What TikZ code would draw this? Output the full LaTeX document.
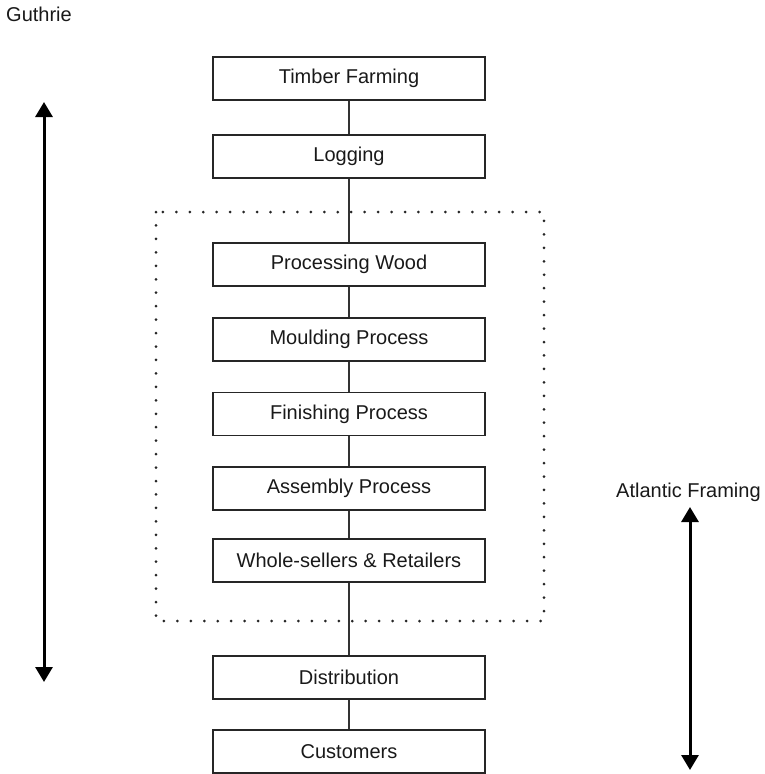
\documentclass[tikz,border=0pt]{standalone}
\usepackage{fontspec}
\setmainfont{Liberation Sans}
\usetikzlibrary{arrows.meta}
\begin{document}
\begin{tikzpicture}[x=1pt,y=-1pt,
  stagebox/.style={draw=black!85, line width=1.3pt, minimum width=272pt, minimum height=43pt, inner sep=0pt, font=\fontsize{20}{22}\selectfont, text=black!90},
  link/.style={draw=black!80, line width=1.1pt},
  label/.style={font=\fontsize{20}{22}\selectfont, text=black!90, inner sep=0pt},
  bigarrow/.style={line width=3pt, {Triangle[length=15pt,width=17pt]}-{Triangle[length=15pt,width=17pt]}}]
\useasboundingbox (0,0) rectangle (764,774);
% dotted frame
\draw[line width=3pt, line cap=round, dash pattern=on 0pt off 13.45pt, black!85] (156,212) rectangle (544,621);
% stages
\node[stagebox] (timber) at (349,78.5) {Timber Farming};
\node[stagebox] (log) at (349,156.5) {Logging};
\node[stagebox] (proc) at (349,264.5) {Processing Wood};
\node[stagebox] (mould) at (349,339.5) {Moulding Process};
\node[stagebox] (fin) at (349,414) {Finishing Process};
\node[stagebox] (asm) at (349,488.5) {Assembly Process};
\node[stagebox] (whole) at (349,560.5) {Whole-sellers \& Retailers};
\node[stagebox] (dist) at (349,677.5) {Distribution};
\node[stagebox] (cust) at (349,751.5) {Customers};
% connectors
\draw[link] (timber.south) -- (log.north);
\draw[link] (log.south) -- (proc.north);
\draw[link] (proc.south) -- (mould.north);
\draw[link] (mould.south) -- (fin.north);
\draw[link] (fin.south) -- (asm.north);
\draw[link] (asm.south) -- (whole.north);
\draw[link] (whole.south) -- (dist.north);
\draw[link] (dist.south) -- (cust.north);
% labels
\node[label, anchor=west] (guthrie) at (6,14) {Guthrie};
\node[label, anchor=west] (atlantic) at (616,492) {Atlantic Framing};
% range arrows
\coordinate (gtop) at (44,102);
\coordinate (gbot) at (44,682);
\coordinate (atop) at (690,507);
\coordinate (abot) at (690,770);
\draw[bigarrow] (gtop) -- (gbot);
\draw[bigarrow] (atop) -- (abot);
\end{tikzpicture}
\end{document}
